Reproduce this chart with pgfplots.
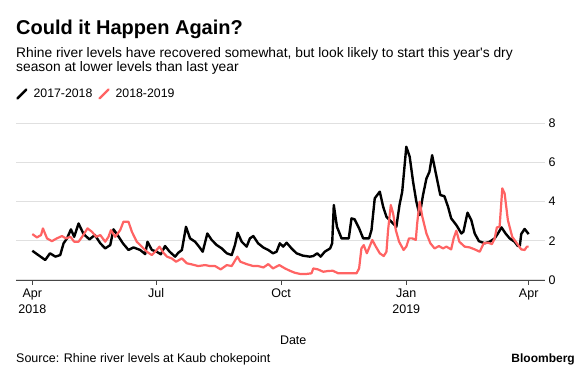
\documentclass[border=0pt]{standalone}
\usepackage{pgfplots}
\pgfplotsset{compat=1.18}
\usepackage{pgfplotstable}
\usepackage{fontspec}
\setmainfont{Liberation Sans}
\definecolor{bred}{RGB}{255,99,99}
\definecolor{gridgray}{RGB}{224,224,224}
\definecolor{axgray}{RGB}{70,70,70}

\pgfplotstableread{
day val
0 1.49
3.4 1.32
9.5 1.02
13 1.36
17 1.19
20.5 1.27
23 1.87
25.5 2.12
28.4 2.58
30.8 2.20
34 2.88
37.7 2.34
42 2.07
46 2.29
50 1.87
53.6 1.61
57.3 1.78
59.7 2.58
62.7 2.29
66.6 1.87
70.7 1.53
74.4 1.66
79.3 1.53
83 1.32
84.7 1.95
87.9 1.53
91.5 1.44
94.5 1.31
97.6 1.73
101 1.44
105 1.19
107.4 1.39
110 1.53
113 2.71
116 2.12
119.7 1.95
122.6 1.70
125.3 1.44
128.7 2.37
131.9 2.04
135.6 1.78
139.3 1.61
143 1.36
146.6 1.27
149 1.78
151 2.41
154 1.95
157.6 1.70
160 2.12
162.5 2.24
166 1.87
170 1.65
173.5 1.53
177 1.36
179.6 1.44
182 1.87
184.5 1.70
187 1.90
190.6 1.61
194.3 1.36
199 1.24
204 1.19
206.6 1.22
209.5 1.36
212 1.19
215 1.44
219 1.61
220.5 1.87
221.7 3.82
224 2.71
227.4 2.12
230.5 2.12
232.7 2.12
234.7 3.14
237 3.09
240.3 2.63
243.3 2.12
247.6 2.12
249.4 2.54
251.8 4.16
255.5 4.50
258 3.73
260.4 3.22
264 2.97
267.7 2.71
270 3.82
272 4.50
275 6.79
277.5 6.28
280 5.00
282.4 3.99
284.8 3.31
287.3 4.33
289.8 5.17
292 5.51
294 6.36
297 5.34
300 4.33
303 4.27
305.7 3.73
308 3.14
311.8 2.80
315.5 2.37
317 2.46
320 3.43
322.8 3.05
325.3 2.37
328.4 1.98
332.6 1.87
336.3 1.95
340 2.12
342.4 2.37
345 2.68
348 2.37
351 2.12
354.6 1.95
357 1.73
358.5 1.75
359.5 2.34
362 2.60
365 2.34
}\blackdata

\pgfplotstableread{
day val
0 2.34
3.4 2.17
6.4 2.29
7.8 2.63
10.8 2.12
14.4 1.98
18 2.12
21.8 2.24
24.7 2.12
28 2.20
30.8 1.95
34 1.95
37 2.24
40.6 2.63
43.8 2.46
47 2.20
50 2.29
53.6 1.95
56 2.20
57.8 2.54
61 2.20
64.6 2.54
67 2.97
70.7 2.97
73.2 2.46
76.8 1.95
80.5 1.70
84.2 1.44
87.9 1.27
90.3 1.44
93.5 1.70
96.4 1.39
99 1.19
102.5 1.10
105.7 0.93
110 1.10
113.6 0.85
117 0.80
122 0.71
127 0.76
130.7 0.71
134.4 0.71
138.5 0.54
143 0.76
146.6 0.71
150.8 1.19
153 0.93
157.6 0.81
162.5 0.71
166 0.71
170 0.64
173.5 0.81
177 0.59
181.6 0.76
185.8 0.59
189.4 0.47
193 0.37
196.8 0.31
201.7 0.31
205.3 0.34
206.6 0.59
210 0.54
214 0.42
217.6 0.46
221 0.47
225 0.34
228.6 0.34
233.5 0.34
238.4 0.34
240.3 0.59
242 1.61
243.7 1.78
246 1.36
248 1.70
250 2.04
252.6 1.70
255.5 1.36
258.4 1.22
260.4 1.44
261.6 2.54
263.6 3.82
265.3 3.39
267.3 2.54
269.7 1.95
273 1.53
275 1.70
277 2.12
279.5 2.12
282 2.04
283 2.88
284.8 3.99
286.8 3.22
289.8 2.37
292.7 1.87
295.8 1.61
299 1.73
302 1.61
304.5 1.70
308 1.56
309.8 2.12
311.8 2.51
314 1.95
317.9 1.70
321.6 1.66
325.3 1.56
329 1.44
331.9 1.87
335 1.90
338 1.83
340 2.12
341.6 2.68
343.6 2.71
345.6 4.67
347.3 4.41
349.7 3.05
352.9 2.20
356.3 1.87
359.5 1.56
362 1.53
363.7 1.70
365 1.70
}\reddata

\begin{document}
\begin{tikzpicture}[x=1pt,y=1pt]
\path[use as bounding box] (0,0) rectangle (580,374);
\node[anchor=base west, inner sep=0, font=\fontsize{20}{22}\selectfont\bfseries] at (16,339) {Could it Happen Again?};
\node[anchor=base west, inner sep=0, font=\fontsize{13.8}{16}\selectfont] at (16,316.7) {Rhine river levels have recovered somewhat, but look likely to start this year\textquotesingle s dry};
\node[anchor=base west, inner sep=0, font=\fontsize{13.8}{16}\selectfont] at (16,302.5) {season at lower levels than last year};
\begin{axis}[
  at={(16pt,94pt)}, anchor=south west,
  scale only axis, width=529pt, height=157pt,
  xmin=-12, xmax=377, ymin=0, ymax=8,
  axis x line*=bottom, axis y line*=right,
  x axis line style={axgray, line width=0.8pt},
  y axis line style={draw=none},
  xtick={0,91,183,275,365},
  xticklabels={{Apr\\2018},Jul,Oct,{Jan\\2019},Apr},
  xtick align=outside,
  major tick length=5pt,
  xtick style={axgray, line width=0.8pt},
  xticklabel style={align=center, font=\fontsize{12.5}{16}\selectfont},
  ytick={0,2,4,6,8},
  ytick style={draw=none},
  yticklabel style={font=\fontsize{12.5}{14}\selectfont},
  /pgf/number format/assume math mode=true,
  ymajorgrids, grid style={gridgray, line width=1pt},
  xlabel={Date},
  xlabel style={font=\fontsize{12.5}{14}\selectfont, at={(axis description cs:0.524,-0.408)}, anchor=base},
  legend columns=2,
  legend style={draw=none, fill=none, inner sep=0pt, at={(axis description cs:0,1.185)}, anchor=west,
    font=\fontsize{12.3}{14}\selectfont, column sep=4pt},
  legend image code/.code={\draw[#1, line cap=round] (0pt,-4.5pt) -- (9pt,4.5pt);},
  clip=false,
]
\addplot[black, line width=2.4pt, line join=round] table[x=day,y=val] {\blackdata};
\addlegendentry{2017-2018}
\addplot[bred, line width=2.2pt, line join=round] table[x=day,y=val] {\reddata};
\addlegendentry{2018-2019}
\end{axis}
\node[anchor=base west, inner sep=0, font=\fontsize{12.5}{14}\selectfont] at (16,11.3) {Source: Rhine river levels at Kaub chokepoint};
\node[anchor=base east, inner sep=0, font=\fontsize{12}{14}\selectfont\bfseries] at (575,11.3) {Bloomberg};
\end{tikzpicture}
\end{document}
